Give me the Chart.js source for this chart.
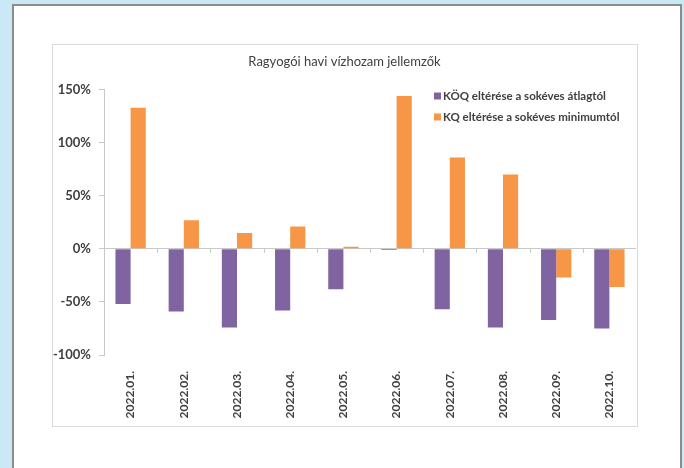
<!DOCTYPE html>
<html>
<head>
<meta charset="utf-8">
<script src="https://cdn.jsdelivr.net/npm/chart.js@4"></script>
<style>
body { margin: 0; width: 684px; height: 468px; background: #cbe8f7; overflow: hidden; font-family: Lato, sans-serif; }
#panel { position: absolute; left: 12px; top: 4px; width: 666px; height: 480px; background: #fff; border: 2px solid #8c8c8c; }
#box { position: absolute; left: 52px; top: 44px; width: 584px; height: 381px; border: 1px solid #dadada; background: #fff; }
#box canvas { position: absolute; left: 0; top: 0; }
</style>
</head>
<body>
<div id="panel"></div>
<div id="box"><canvas id="chart" width="584" height="381"></canvas></div>
<script>
const months = ['2022.01.', '2022.02.', '2022.03.', '2022.04.', '2022.05.',
  '2022.06.', '2022.07.', '2022.08.', '2022.09.', '2022.10.'];
const koqFromAverage = [-52, -59, -74, -58, -38, -1, -57, -74, -67, -75];
const kqFromMinimum = [133, 27, 15, 21, 2, 144, 86, 70, -27, -36];
const yTicks = [-100, -50, 0, 50, 100, 150];

const textColor = '#404040';

// legend sits inside the plot, top right, like the Excel original
const insideLegend = {
  id: 'insideLegend',
  afterDraw(chart) {
    const c = chart.ctx;
    c.save();
    c.font = 'bold 11.5px Lato';
    c.textBaseline = 'middle';
    chart.data.datasets.forEach((ds, i) => {
      const x = 381, y = 51 + i * 21;
      c.fillStyle = ds.backgroundColor;
      c.fillRect(x, y - 3.5, 7, 7);
      c.fillStyle = textColor;
      c.fillText(ds.label, x + 9, y);
    });
    // small category tick marks under the zero line
    const xs = chart.scales.x, ys = chart.scales.y;
    const y0 = ys.getPixelForValue(0);
    const step = xs.width / months.length;
    c.strokeStyle = '#c8c8c8';
    c.lineWidth = 1;
    for (let i = 1; i < months.length; i++) {
      const px = Math.round(xs.left + i * step) + 0.5;
      c.beginPath();
      c.moveTo(px, y0);
      c.lineTo(px, y0 + 4);
      c.stroke();
    }
    c.restore();
  }
};

new Chart(document.getElementById('chart'), {
  type: 'bar',
  data: {
    labels: months,
    datasets: [
      { label: 'KÖQ eltérése a sokéves átlagtól', data: koqFromAverage, backgroundColor: '#8064a2' },
      { label: 'KQ eltérése a sokéves minimumtól', data: kqFromMinimum, backgroundColor: '#f79646' }
    ]
  },
  options: {
    responsive: false,
    animation: false,
    layout: { padding: { left: 0, right: 1, top: 0, bottom: 0 } },
    datasets: { bar: { categoryPercentage: 0.57, barPercentage: 1.0 } },
    plugins: {
      legend: { display: false },
      tooltip: { enabled: false },
      title: {
        display: true,
        text: 'Ragyogói havi vízhozam jellemzők',
        color: textColor,
        font: { family: 'Lato', size: 13, weight: 'normal' },
        padding: { top: 9, bottom: 20 }
      }
    },
    scales: {
      x: {
        afterFit(scale) { scale.height = 71; },
        grid: { display: false },
        border: { display: false },
        ticks: {
          color: textColor,
          maxRotation: 90,
          minRotation: 90,
          padding: 8,
          font: { family: 'Lato', size: 12, weight: 'bold' }
        }
      },
      y: {
        min: -100,
        max: 150,
        afterBuildTicks(scale) { scale.ticks = yTicks.map(v => ({ value: v })); },
        afterFit(scale) { scale.width = 51; },
        border: { display: true, color: '#c8c8c8' },
        grid: {
          color: ctx => (ctx.tick && ctx.tick.value === 0) ? '#c8c8c8' : 'rgba(0,0,0,0)',
          tickColor: '#c8c8c8',
          tickLength: 5
        },
        ticks: {
          color: textColor,
          padding: 8,
          font: { family: 'Lato', size: 13, weight: 'bold' },
          callback: v => v + '%'
        }
      }
    }
  },
  plugins: [insideLegend]
});
</script>
</body>
</html>
